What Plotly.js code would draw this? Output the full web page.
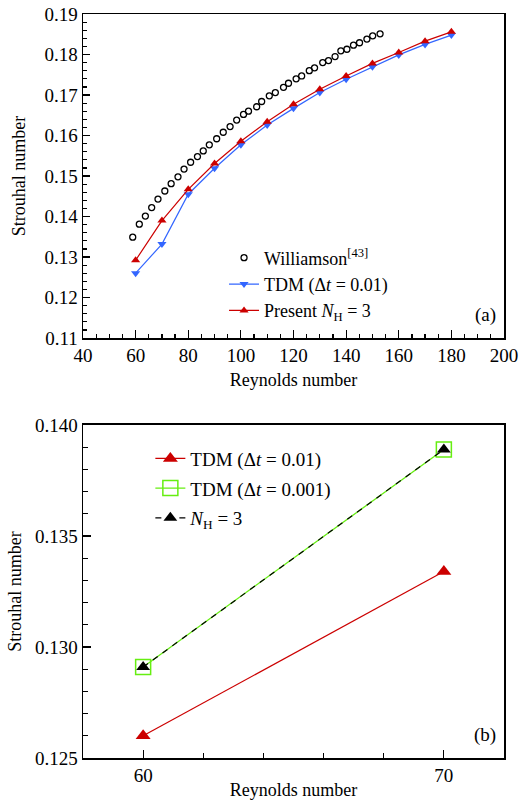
<!DOCTYPE html>
<html><head><meta charset="utf-8">
<script src="https://cdn.plot.ly/plotly-3.0.1.min.js"></script>
<style>body{margin:0;padding:0;background:#fff}#chart{width:532px;height:800px}</style>
</head><body><div id="chart"></div>
<script>
// ---- Panel (a) data ----
const williamsonRe = [58.9, 61.4, 63.7, 66.1, 68.5, 71.1, 73.5, 76.1, 78.4, 80.9, 83.5, 85.7, 88.0, 90.8, 93.3, 95.9, 98.4, 101.0, 102.9, 106.0, 107.9, 110.8, 113.1, 116.2, 118.1, 121.0, 123.1, 126.0, 128.0, 131.1, 133.3, 135.8, 138.0, 140.3, 142.8, 145.1, 147.9, 150.1, 152.9];
const williamsonSt = [0.1349, 0.1381, 0.1401, 0.1422, 0.1443, 0.1463, 0.1481, 0.1498, 0.1517, 0.1534, 0.1548, 0.1562, 0.1577, 0.1592, 0.1608, 0.1622, 0.1638, 0.1652, 0.1660, 0.1671, 0.1684, 0.1698, 0.1706, 0.1719, 0.1729, 0.1740, 0.1747, 0.1760, 0.1767, 0.1780, 0.1785, 0.1795, 0.1809, 0.1813, 0.1823, 0.1829, 0.1838, 0.1846, 0.1851];
const simRe = [60, 70, 80, 90, 100, 110, 120, 130, 140, 150, 160, 170, 180];
const tdmSt = [0.1260, 0.1332, 0.1455, 0.1519, 0.1577, 0.1626, 0.1667, 0.1706, 0.1739, 0.1770, 0.1799, 0.1825, 0.1848];
const presentSt = [0.1292, 0.1390, 0.1467, 0.1531, 0.1586, 0.1634, 0.1677, 0.1714, 0.1747, 0.1778, 0.1805, 0.1833, 0.1856];
// ---- Panel (b) data ----
const zoomRe = [60, 70];
const tdm001St = [0.1260, 0.1334];
const tdm0001St = [0.1291, 0.1389];
const nh3St = [0.1291, 0.1389];

const FONT = 'Liberation Serif';
const RED = '#cc0000', BLUE = '#3366ff', GREEN = '#66ee11';

const traces = [
  {x: williamsonRe, y: williamsonSt, xaxis: 'x', yaxis: 'y', mode: 'markers', name: 'Williamson<sup>[43]</sup>',
   marker: {symbol: 'circle-open', size: 6, color: 'black', line: {width: 1.3}}, legend: 'legend'},
  {x: simRe, y: tdmSt, xaxis: 'x', yaxis: 'y', mode: 'lines+markers', name: 'TDM (Δ<i>t</i> = 0.01)',
   line: {color: BLUE, width: 1.2}, marker: {symbol: 'triangle-down', size: 8, color: BLUE}, legend: 'legend'},
  {x: simRe, y: presentSt, xaxis: 'x', yaxis: 'y', mode: 'lines+markers', name: 'Present <i>N</i><sub>H</sub> = 3',
   line: {color: RED, width: 1.2}, marker: {symbol: 'triangle-up', size: 8, color: RED}, legend: 'legend'},
  {x: zoomRe, y: tdm001St, xaxis: 'x2', yaxis: 'y2', mode: 'lines+markers', name: 'TDM (Δ<i>t</i> = 0.01)',
   line: {color: RED, width: 1.2}, marker: {symbol: 'triangle-up', size: 13, color: RED}, legend: 'legend2', legendgroup: 'g1'},
  {x: zoomRe, y: tdm0001St, xaxis: 'x2', yaxis: 'y2', mode: 'lines+markers', name: 'TDM (Δ<i>t</i> = 0.001)',
   line: {color: GREEN, width: 1.3}, marker: {symbol: 'square-open', size: 15, color: GREEN, line: {width: 1.5}}, legend: 'legend2', legendgroup: 'g2'},
  {x: zoomRe, y: nh3St, xaxis: 'x2', yaxis: 'y2', mode: 'lines+markers', name: '<i>N</i><sub>H</sub> = 3',
   line: {color: 'black', width: 1.2, dash: '6px,6px'}, marker: {symbol: 'triangle-up', size: 12, color: 'black'}, legend: 'legend2', legendgroup: 'g3'}
];

const axisCommon = {
  showgrid: false, zeroline: false, showline: true, linecolor: 'black', linewidth: 1.5, mirror: true,
  ticks: 'inside', tickcolor: 'black', tickwidth: 1.2,
  tickfont: {family: FONT, size: 19, color: 'black'}
};

const layout = {
  width: 532, height: 800,
  margin: {l: 83, r: 28, t: 14, b: 42},
  paper_bgcolor: 'white', plot_bgcolor: 'white',
  font: {family: FONT, color: 'black'},
  showlegend: true,
  xaxis: Object.assign({}, axisCommon, {
    domain: [0, 1], anchor: 'y', range: [40, 200], dtick: 20, tick0: 40, ticklen: 8,
    minor: {ticks: 'inside', dtick: 5, ticklen: 4, tickcolor: 'black', tickwidth: 1.2},
    title: {text: 'Reynolds number', font: {family: FONT, size: 18}, standoff: 8}
  }),
  yaxis: Object.assign({}, axisCommon, {
    domain: [0.5645, 1], anchor: 'x', range: [0.11, 0.19], dtick: 0.01, tick0: 0.11, tickformat: '.2f', ticklen: 7,
    minor: {ticks: 'inside', dtick: 0.002, ticklen: 4, tickcolor: 'black', tickwidth: 1.2},
    title: {text: 'Strouhal number', font: {family: FONT, size: 18}, standoff: 14}
  }),
  xaxis2: Object.assign({}, axisCommon, {
    domain: [0, 1], anchor: 'y2', range: [58, 72], dtick: 10, tick0: 60, ticklen: 8,
    minor: {ticks: 'inside', dtick: 2, ticklen: 5, tickcolor: 'black', tickwidth: 1.2},
    title: {text: 'Reynolds number', font: {family: FONT, size: 18}, standoff: 0}
  }),
  yaxis2: Object.assign({}, axisCommon, {
    domain: [0, 0.4476], anchor: 'x2', range: [0.125, 0.140], dtick: 0.005, tick0: 0.125, tickformat: '.3f', ticklen: 8,
    minor: {ticks: 'inside', dtick: 0.001, ticklen: 5, tickcolor: 'black', tickwidth: 1.2},
    title: {text: 'Strouhal number', font: {family: FONT, size: 18}, standoff: 8}
  }),
  legend: {x: 0.335, y: 0.697, xanchor: 'left', yanchor: 'top', bgcolor: 'rgba(0,0,0,0)',
           font: {family: FONT, size: 18, color: 'black'}},
  legend2: {x: 0.16, y: 0.428, xanchor: 'left', yanchor: 'top', bgcolor: 'rgba(0,0,0,0)', tracegroupgap: 2,
           font: {family: FONT, size: 19, color: 'black'}},
  annotations: [
    {text: '(a)', xref: 'x domain', yref: 'y domain', x: 0.985, y: 0.03, xanchor: 'right', yanchor: 'bottom', showarrow: false,
     font: {family: FONT, size: 19, color: 'black'}},
    {text: '(b)', xref: 'x2 domain', yref: 'y2 domain', x: 0.985, y: 0.03, xanchor: 'right', yanchor: 'bottom', showarrow: false,
     font: {family: FONT, size: 19, color: 'black'}}
  ]
};

Plotly.newPlot('chart', traces, layout, {displayModeBar: false, staticPlot: true});
</script>
</body></html>
